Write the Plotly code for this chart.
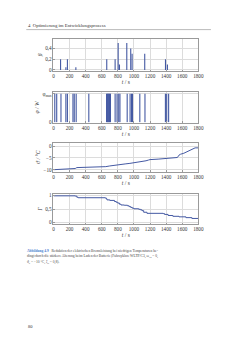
import plotly.graph_objects as go

# ---- data ----
beta_t = [88, 154, 173, 278, 662, 766, 804, 820, 911, 960, 977, 1134, 1392, 1416]
beta_v = [0.2, 0.05, 0.2, 0.05, 0.2, 0.2, 0.5, 0.1, 0.5, 0.4, 0.3, 0.3, 0.2, 0.1]

phi_t = [16, 40, 93, 154, 173, 242, 258, 282, 439, 660, 667, 674, 681, 688, 695, 702, 708,
         766, 790, 811, 826, 916, 952, 970, 982, 1073, 1137, 1391, 1407, 1431]
phi_v = [1.0] * len(phi_t)

theta_t = [0, 100, 200, 270, 290, 400, 500, 600, 650, 700, 750, 800, 850, 900, 950,
           1000, 1050, 1100, 1150, 1180, 1200, 1300, 1400, 1500, 1540, 1560, 1580,
           1620, 1650, 1700, 1740, 1760, 1800]
theta_v = [-10, -9.9, -9.7, -9.5, -9.1, -9.0, -9.0, -8.9, -8.7, -8.4, -8.1, -7.8, -7.6,
           -7.5, -7.3, -7.1, -6.9, -6.6, -6.2, -5.9, -5.7, -5.5, -5.2, -5.0, -4.8, -3.8,
           -3.4, -3.0, -2.5, -1.7, -0.9, -0.7, -0.7]

gamma_t = [0, 270, 290, 306, 640, 657, 665, 700, 758, 780, 799, 820, 839, 880, 920,
           940, 960, 980, 1000, 1060, 1081, 1100, 1121, 1162, 1363, 1380, 1424, 1484,
           1560, 1646, 1720, 1807]
gamma_v = [0.99, 0.98, 0.94, 0.92, 0.91, 0.88, 0.84, 0.82, 0.78, 0.75, 0.72, 0.68, 0.65,
           0.64, 0.62, 0.59, 0.56, 0.53, 0.51, 0.49, 0.47, 0.44, 0.38, 0.34, 0.33, 0.30,
           0.26, 0.23, 0.21, 0.18, 0.15, 0.11]

x_ticks = list(range(0, 1801, 200))

# ---- style ----
BLUE = "#4459a3"
GRID = "#dcdcdc"
FRAME = "#9a9a9a"
FONT = "Liberation Serif"
W, H = 250, 355

def py(px):
    return 1 - px / H

def spikes(ts, vs):
    xs, ys = [], []
    for t, v in zip(ts, vs):
        xs += [t, t, None]
        ys += [0, v, None]
    return xs, ys

fig = go.Figure()
bx, by = spikes(beta_t, beta_v)
fig.add_trace(go.Scatter(x=bx, y=by, mode="lines", line=dict(color=BLUE, width=1.1),
                         xaxis="x", yaxis="y"))
px_, py_ = spikes(phi_t, phi_v)
fig.add_trace(go.Scatter(x=px_, y=py_, mode="lines", line=dict(color=BLUE, width=1.1),
                         xaxis="x2", yaxis="y2"))
fig.add_trace(go.Scatter(x=theta_t, y=theta_v, mode="lines", line=dict(color=BLUE, width=1),
                         xaxis="x3", yaxis="y3"))
fig.add_trace(go.Scatter(x=gamma_t, y=gamma_v, mode="lines", line=dict(color=BLUE, width=1, shape="hv"),
                         xaxis="x4", yaxis="y4"))

xdom = [54 / W, 203 / W]
panels = [(37.3, 70.0), (91.7, 122.3), (142.7, 172.0), (194.7, 225.0)]
yranges = [[-0.02, 0.58], [-0.01, 1.045], [-10.8, 1.5], [-0.05, 1.06]]
ytickvals = [[0, 0.2, 0.4], [0, 1], [-10, -5, 0], [0, 0.5, 1]]
yticktext = [["0", "0,2", "0,4"], ["0", "φ<sub>max</sub>"], ["−10", "−5", "0"], ["0", "0,5", "1"]]
ytitles = ["β", "φ / W", "ϑ / °C", "Γ"]

layout = dict(
    width=W, height=H, margin=dict(l=0, r=0, t=0, b=0),
    paper_bgcolor="white", plot_bgcolor="white", showlegend=False,
    font=dict(family=FONT, size=5, color="#333"),
)
for i, (top, bot) in enumerate(panels):
    n = "" if i == 0 else str(i + 1)
    layout["xaxis" + n] = dict(
        domain=xdom, anchor="y" + n, range=[0, 1800], tickvals=x_ticks,
        showgrid=True, gridcolor=GRID, gridwidth=0.5, zeroline=False,
        showline=True, linecolor=FRAME, linewidth=0.6, mirror=True,
        ticks="inside", ticklen=1.5, tickcolor=FRAME, tickfont=dict(size=5.2),
        title=dict(text="<i>t</i> / s", font=dict(size=5.6), standoff=1),
    )
    layout["yaxis" + n] = dict(
        domain=[py(bot), py(top)], anchor="x" + n, range=yranges[i],
        tickvals=ytickvals[i], ticktext=yticktext[i],
        showgrid=True, gridcolor=GRID, gridwidth=0.5, zeroline=False,
        showline=True, linecolor=FRAME, linewidth=0.6, mirror=True,
        ticks="inside", ticklen=1.5, tickcolor=FRAME, tickfont=dict(size=5.2),
        title=dict(text="<i>" + ytitles[i] + "</i>", font=dict(size=5.6), standoff=2),
    )

anns = [
    dict(x=26 / W, y=py(24), text="4  Optimierung im Entwicklungsprozess",
         font=dict(size=4.8, family=FONT, color="#333")),
    dict(x=25 / W, y=py(253), text="<span style='color:#4a7bd0'><b>Abbildung 4.9</b></span>   Reduktion der elektrischen Bremsleistung bei niedrigen Temperaturen be-",
         font=dict(size=3.6, family=FONT, color="#444")),
    dict(x=25 / W, y=py(258.5), text="dingt durch die stärkere Alterung beim Laden der Batterie (Fahrzyklus: WLTP/C3, ω<sub>12</sub> = 0,",
         font=dict(size=3.6, family=FONT, color="#444")),
    dict(x=25 / W, y=py(264), text="ϑ<sub>0</sub> = −10 °C, ξ<sub>0</sub> = 0,8).",
         font=dict(size=3.6, family=FONT, color="#444")),
    dict(x=26 / W, y=py(329), text="80", font=dict(size=4.5, family=FONT, color="#333")),
]
for a in anns:
    a.update(xref="paper", yref="paper", xanchor="left", yanchor="middle", showarrow=False)
layout["annotations"] = anns
layout["shapes"] = [dict(type="line", xref="paper", yref="paper", x0=26 / W, x1=216 / W,
                         y0=py(28), y1=py(28), line=dict(color="#777", width=0.5))]

fig.update_layout(**layout)
fig.write_html("out.html")
